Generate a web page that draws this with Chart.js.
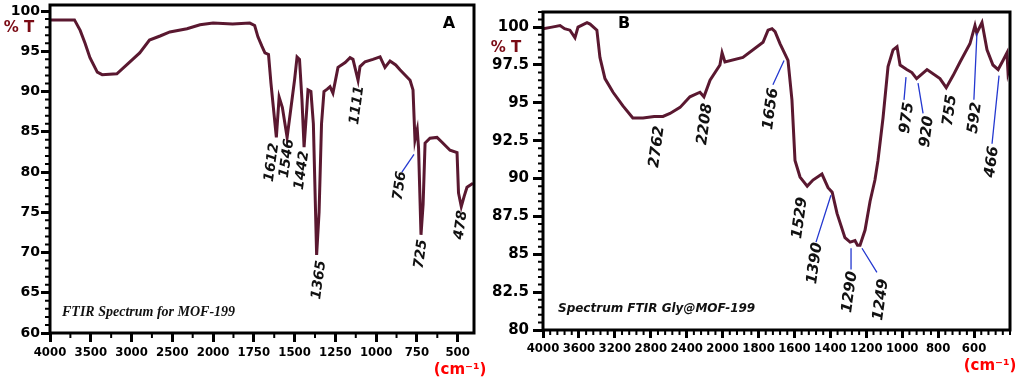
<!DOCTYPE html>
<html>
<head>
<meta charset="utf-8">
<script src="https://cdn.jsdelivr.net/npm/chart.js@4.4.1/dist/chart.umd.min.js"></script>
<style>
  body { margin: 0; background: #fff; width: 1021px; height: 380px; position: relative; overflow: hidden; }
  canvas { position: absolute; top: 0; }
  #mof { left: 0; }
  #gly { left: 480px; }
</style>
</head>
<body>
<canvas id="mof" width="490" height="380"></canvas>
<canvas id="gly" width="541" height="380"></canvas>
<script>
// panel A : MOF-199 (wavenumber cm-1, %T)
const mofWave = [4000, 3700, 3630, 3570, 3510, 3420, 3360, 3180, 3060, 2900,
  2780, 2650, 2530, 2320, 2160, 2000, 1880, 1775, 1745, 1725,
  1700, 1682, 1660, 1645, 1612, 1595, 1575, 1546, 1500, 1485,
  1470, 1455, 1442, 1425, 1418, 1400, 1385, 1365, 1350, 1335,
  1320, 1300, 1283, 1265, 1234, 1190, 1160, 1142, 1111, 1099,
  1068, 1020, 976, 946, 915, 880, 854, 792, 774, 762,
  756, 748, 740, 725, 712, 700, 670, 627, 596, 547,
  504, 495, 478, 460, 443, 406];
const mofT = [98.9, 98.9, 97.6, 96.0, 94.2, 92.4, 92.1, 92.2, 93.3, 94.8,
  96.4, 96.9, 97.4, 97.8, 98.3, 98.5, 98.4, 98.5, 98.2, 96.8,
  95.6, 94.8, 94.6, 91.0, 84.3, 89.3, 88.0, 84.3, 91.5, 94.3,
  94.0, 89.0, 83.1, 88.0, 90.2, 90.0, 86.0, 69.7, 75.0, 86.0,
  90.0, 90.3, 90.6, 89.8, 93.0, 93.6, 94.2, 94.0, 91.4, 93.1,
  93.7, 94.0, 94.3, 93.0, 93.8, 93.3, 92.7, 91.4, 90.2, 84.0,
  84.6, 85.3, 83.0, 72.2, 76.0, 83.6, 84.2, 84.3, 83.7, 82.7,
  82.4, 77.4, 75.7, 77.0, 78.1, 78.6];

// panel B : Gly@MOF-199
const glyWave = [4000, 3900, 3810, 3760, 3700, 3644, 3610, 3510, 3476, 3400,
  3366, 3310, 3220, 3110, 3000, 2886, 2762, 2664, 2586, 2474,
  2364, 2252, 2208, 2140, 2030, 2006, 1987, 1887, 1775, 1747,
  1725, 1708, 1680, 1656, 1636, 1614, 1597, 1569, 1529, 1497,
  1447, 1413, 1390, 1363, 1319, 1290, 1263, 1249, 1235, 1207,
  1179, 1152, 1135, 1107, 1079, 1051, 1029, 1012, 975, 946,
  920, 862, 790, 755, 717, 678, 623, 595, 585, 556,
  528, 495, 466, 439, 417, 411, 400];
const glyT = [99.9, 100.0, 100.1, 99.9, 99.8, 99.3, 100.0, 100.3, 100.2, 99.8,
  98.0, 96.6, 95.7, 94.8, 94.0, 94.0, 94.1, 94.1, 94.3, 94.7,
  95.4, 95.7, 95.4, 96.5, 97.5, 98.3, 97.7, 98.0, 99.0, 99.8,
  99.9, 99.7, 98.9, 98.3, 97.8, 95.2, 91.2, 90.1, 89.5, 89.9,
  90.3, 89.4, 89.1, 87.7, 86.1, 85.8, 85.9, 85.6, 85.6, 86.6,
  88.5, 89.9, 91.2, 94.0, 97.4, 98.5, 98.7, 97.5, 97.2, 97.0,
  96.6, 97.2, 96.6, 96.0, 96.8, 97.7, 98.9, 100.1, 99.6, 100.3,
  98.5, 97.5, 97.2, 97.8, 98.3, 97.0, 97.5];

// tick labels
const mofXTicks = [4000, 3500, 3000, 2500, 2000, 1750, 1500, 1250, 1000, 750, 500];
const mofYTicks = [60, 65, 70, 75, 80, 85, 90, 95, 100];
const glyXTicks = [4000, 3600, 3200, 2800, 2400, 2000, 1800, 1600, 1400, 1200, 1000, 800, 600];
const glyYTicks = [80, 82.5, 85, 87.5, 90, 92.5, 95, 97.5, 100];

// peak labels: [text, wavenumber, %T of label centre]
const mofNotes = [['1612', 1639, 81.2], ['1546', 1547, 81.7], ['1442', 1455, 80.2], ['1111', 1117, 88.3],
  ['756', 854, 78.3], ['1365', 1350, 66.6], ['725', 725, 69.8], ['478', 480, 73.4]];
const mofLeaders = [[842, 80.0, 768, 82.2]];
const glyNotes = [['2762', 2730, 92.1], ['2208', 2196, 93.6], ['1656', 1731, 94.6], ['975', 973, 94.0],
  ['920', 862, 93.1], ['755', 734, 94.5], ['592', 595, 94.0], ['466', 500, 91.1],
  ['1529', 1569, 87.4], ['1390', 1486, 84.4], ['1290', 1291, 82.5], ['1249', 1118, 82.0]];
const glyLeaders = [[1720, 96.2, 1658, 97.8], [979, 96.7, 990, 95.2], [912, 96.3, 884, 94.3],
  [584, 99.6, 601, 95.2], [461, 96.8, 500, 92.3], [1397, 88.9, 1480, 85.8],
  [1285, 85.4, 1285, 84.0], [1224, 85.4, 1141, 83.8]];

// the x axis is compressed by 2 above 2000 cm-1
const toU = w => (w > 2000 ? 2000 + (w - 2000) / 2 : w);
const fromU = u => (u > 2000 ? Math.round(2000 + (u - 2000) * 2) : Math.round(u));

const LINE = '#5a1830';
const SANS = "'DejaVu Sans', Verdana, sans-serif";
const COND = "'DejaVu Sans Condensed', 'DejaVu Sans', sans-serif";

const framePlugin = {
  id: 'frame',
  afterDraw(chart, args, o) {
    const { ctx, chartArea: a, scales: { x, y } } = chart;
    ctx.save();
    // minor ticks
    ctx.strokeStyle = '#000';
    ctx.lineWidth = 2;
    ctx.beginPath();
    for (let i = Math.ceil(x.min / o.xMinor - 1e-9); i * o.xMinor <= x.max + 1e-9; i++) {
      const px = x.getPixelForValue(i * o.xMinor);
      ctx.moveTo(px, a.bottom);
      ctx.lineTo(px, a.bottom + o.minorLen);
    }
    for (let i = Math.ceil(y.min / o.yMinor - 1e-9); i * o.yMinor <= y.max + 1e-9; i++) {
      const py = y.getPixelForValue(i * o.yMinor);
      ctx.moveTo(a.left, py);
      ctx.lineTo(a.left - o.minorLen, py);
    }
    ctx.stroke();
    ctx.lineWidth = 3;
    ctx.strokeRect(a.left, a.top, a.right - a.left, a.bottom - a.top);

    // blue leader lines
    ctx.strokeStyle = '#2438d0';
    ctx.lineWidth = 1.3;
    ctx.beginPath();
    o.leaders.forEach(([w1, t1, w2, t2]) => {
      ctx.moveTo(x.getPixelForValue(toU(w1)), y.getPixelForValue(t1));
      ctx.lineTo(x.getPixelForValue(toU(w2)), y.getPixelForValue(t2));
    });
    ctx.stroke();

    // rotated peak labels
    ctx.fillStyle = '#111';
    ctx.font = o.noteFont;
    ctx.textAlign = 'center';
    ctx.textBaseline = 'middle';
    o.notes.forEach(([s, w, t]) => {
      ctx.save();
      ctx.translate(x.getPixelForValue(toU(w)), y.getPixelForValue(t));
      ctx.rotate(-82 * Math.PI / 180);
      ctx.fillText(s, 0, 0);
      ctx.restore();
    });

    // other texts, placed from the chart area corners
    ctx.textBaseline = 'middle';
    o.texts.forEach(([s, ref, dx, dy, font, color, align]) => {
      const bx = ref[0] === 'l' ? a.left : a.right;
      const by = ref[1] === 't' ? a.top : a.bottom;
      ctx.font = font;
      ctx.fillStyle = color;
      ctx.textAlign = align;
      ctx.fillText(s, bx + dx, by + dy);
    });
    ctx.restore();
  }
};

function makePanel(id, wave, trans, xTicks, yTicks, opt) {
  return new Chart(document.getElementById(id), {
    type: 'line',
    data: {
      datasets: [{
        data: wave.map((w, i) => ({ x: toU(w), y: trans[i] })),
        borderColor: LINE,
        borderWidth: 3,
        pointRadius: 0,
        tension: 0
      }]
    },
    options: {
      responsive: false,
      animation: false,
      devicePixelRatio: 1,
      layout: { padding: opt.padding },
      plugins: {
        legend: { display: false },
        tooltip: { enabled: false },
        frame: opt.frame
      },
      scales: {
        x: {
          type: 'linear',
          reverse: true,
          min: 400,
          max: 3000,
          afterBuildTicks: s => { s.ticks = xTicks.map(w => ({ value: toU(w) })); },
          afterFit: s => { s.height = 30; s.paddingLeft = 0; s.paddingRight = 0; },
          border: { display: false },
          grid: { display: true, drawOnChartArea: false, tickLength: opt.xTickLen, tickWidth: 3, tickColor: '#000' },
          ticks: {
            autoSkip: false, maxRotation: 0, padding: 3, color: '#000',
            font: { family: COND, weight: 'bold', size: 13 },
            callback: v => String(fromU(v))
          }
        },
        y: {
          min: opt.yMin,
          max: opt.yMax,
          afterBuildTicks: s => { s.ticks = yTicks.map(v => ({ value: v })); },
          afterFit: s => { s.width = opt.yWidth; s.paddingTop = 0; s.paddingBottom = 0; },
          border: { display: false },
          grid: { display: true, drawOnChartArea: false, tickLength: opt.yTickLen, tickWidth: 3, tickColor: '#000' },
          ticks: {
            padding: opt.yPad, color: '#000',
            font: { family: SANS, weight: 'bold', size: opt.yFont },
            callback: v => String(v)
          }
        }
      }
    },
    plugins: [framePlugin]
  });
}

makePanel('mof', mofWave, mofT, mofXTicks, mofYTicks, {
  padding: { left: 0, right: 16, top: 5, bottom: 17 },
  yMin: 60, yMax: 100.75, yWidth: 50, yTickLen: 9, yPad: 1, yFont: 14, xTickLen: 9,
  frame: {
    xMinor: 125, yMinor: 1, minorLen: 5,
    notes: mofNotes, leaders: mofLeaders,
    noteFont: `italic bold 14px ${SANS}`,
    texts: [
      ['% T', 'lt', -31, 23, `bold 15px ${SANS}`, '#7a0a14', 'center'],
      ['A', 'rt', -25, 19, `bold 16px ${SANS}`, '#000', 'center'],
      ['FTIR Spectrum for MOF-199', 'lb', 12, -21, "italic bold 14px 'Liberation Serif', serif", '#111', 'left'],
      ['(cm⁻¹)', 'rb', -14, 37, `bold 15px ${SANS}`, '#f00', 'center']
    ]
  }
});

makePanel('gly', glyWave, glyT, glyXTicks, glyYTicks, {
  padding: { left: 0, right: 11, top: 12, bottom: 20 },
  yMin: 80, yMax: 101, yWidth: 63, yTickLen: 10, yPad: 4, yFont: 15, xTickLen: 8,
  frame: {
    xMinor: 40, yMinor: 0.5, minorLen: 5,
    notes: glyNotes, leaders: glyLeaders,
    noteFont: `italic bold 15px ${SANS}`,
    texts: [
      ['% T', 'lt', -37, 36, `bold 15px ${SANS}`, '#7a0a14', 'center'],
      ['B', 'lt', 81, 12, `bold 16px ${SANS}`, '#000', 'center'],
      ['Spectrum FTIR Gly@MOF-199', 'lb', 15, -21, `italic bold 12px ${SANS}`, '#111', 'left'],
      ['(cm⁻¹)', 'rb', -20, 36, `bold 15px ${SANS}`, '#f00', 'center']
    ]
  }
});
</script>
</body>
</html>
